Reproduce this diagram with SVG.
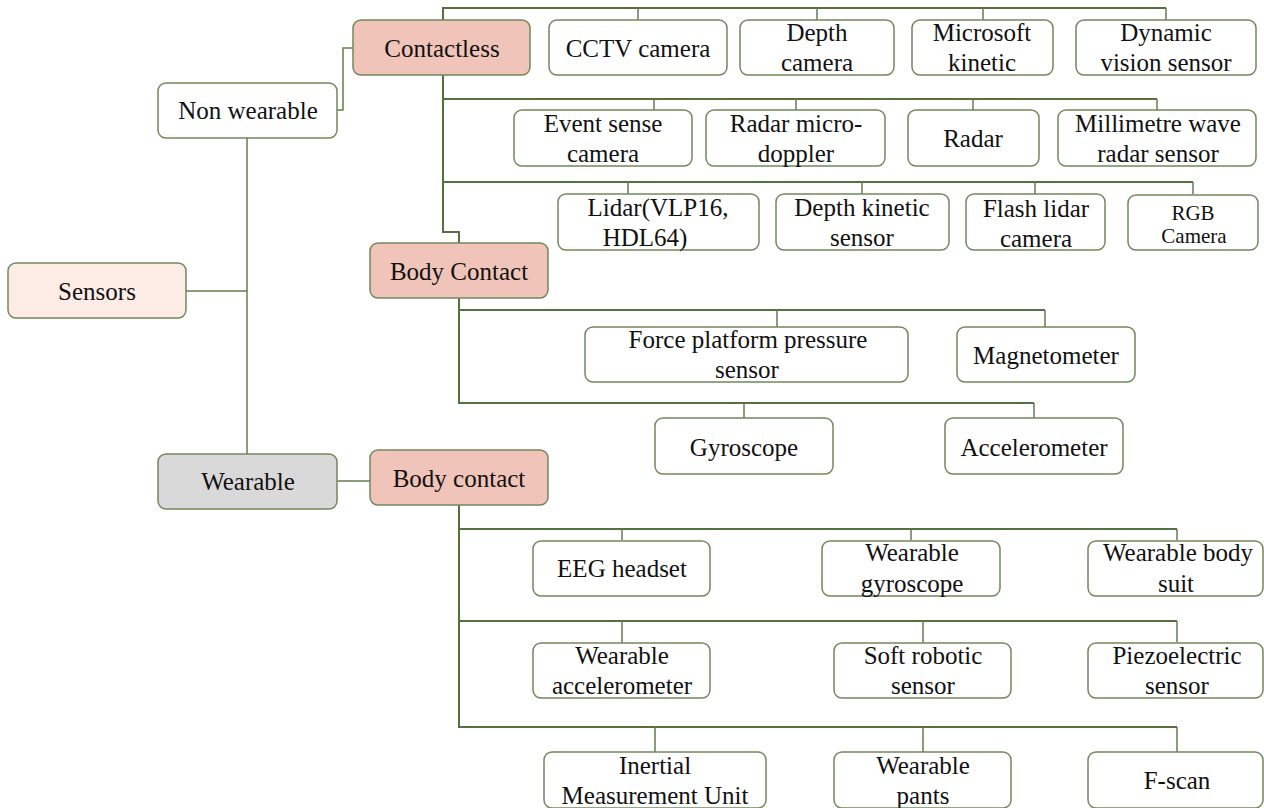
<svg xmlns="http://www.w3.org/2000/svg" width="1264" height="808" viewBox="0 0 1264 808">
<style>
.n{fill:#ffffff;stroke:#70885a;stroke-width:1.5}
.p{fill:#f0c4b8}
.s{fill:#fdece6}
.g{fill:#d9d9d9}
text{font-family:"Liberation Serif","Times New Roman",serif;font-size:25px;fill:#111;text-anchor:middle}
.sm{font-size:21px}
.bus{fill:none;stroke:#56703f;stroke-width:2}
.drop{fill:none;stroke:#647d50;stroke-width:1.5}
</style>
<rect width="1264" height="808" fill="#ffffff"/>
<g id="connectors">
<path class="drop" d="M186 291H247M247 138V454M337 481H370M337 110H343V48H353"/>
<path class="bus" d="M443 20V8H1166M443 75V232H459V243M443 99H1157M443 182H1193"/>
<path class="drop" d="M638 8V20M817 8V20M983 8V20M1166 8V20M654 99V110M796 99V110M973 99V110M1157 99V110M628 182V194M862 182V194M1035 182V194M1193 182V194"/>
<path class="bus" d="M459 298V403H1034M459 310H1045"/>
<path class="drop" d="M777 310V327M1045 310V327M744 403V418M1034 403V418"/>
<path class="bus" d="M459 505V727H1177M459 529H1177M459 621H1177"/>
<path class="drop" d="M622 529V540M911 529V540M1177 529V540M622 621V646M923 621V646M1177 621V642M655 727V752M923 727V752M1177 727V752"/>
</g>
<g id="sensors"><rect class="n s" x="8" y="263" width="178" height="55" rx="8"/><text x="97" y="300">Sensors</text></g>
<g id="non-wearable"><rect class="n" x="158" y="83" width="179" height="55" rx="8"/><text x="248" y="119">Non wearable</text></g>
<g id="wearable"><rect class="n g" x="158" y="454" width="179" height="55" rx="8"/><text x="248" y="490">Wearable</text></g>
<g id="contactless"><rect class="n p" x="353" y="20" width="177" height="55" rx="8"/><text x="442" y="57">Contactless</text></g>
<g id="body-contact-1"><rect class="n p" x="370" y="243" width="178" height="55" rx="8"/><text x="459" y="280">Body Contact</text></g>
<g id="body-contact-2"><rect class="n p" x="370" y="450" width="178" height="55" rx="8"/><text x="459" y="487">Body contact</text></g>

<g id="cctv"><rect class="n" x="549" y="20" width="178" height="55" rx="8"/><text x="638" y="57">CCTV camera</text></g>
<g id="depth-camera"><rect class="n" x="740" y="20" width="154" height="55" rx="8"/><text x="817" y="41">Depth</text><text x="817" y="71">camera</text></g>
<g id="microsoft-kinetic"><rect class="n" x="912" y="20" width="141" height="55" rx="8"/><text x="982" y="41">Microsoft</text><text x="982" y="71">kinetic</text></g>
<g id="dvs"><rect class="n" x="1076" y="20" width="180" height="55" rx="8"/><text x="1166" y="41">Dynamic</text><text x="1166" y="71">vision sensor</text></g>

<g id="event-camera"><rect class="n" x="514" y="110" width="178" height="56" rx="8"/><text x="603" y="132">Event sense</text><text x="603" y="162">camera</text></g>
<g id="radar-micro"><rect class="n" x="706" y="110" width="179" height="56" rx="8"/><text x="796" y="132">Radar micro-</text><text x="796" y="162">doppler</text></g>
<g id="radar"><rect class="n" x="908" y="110" width="131" height="56" rx="8"/><text x="973" y="147">Radar</text></g>
<g id="mmwave"><rect class="n" x="1058" y="110" width="198" height="56" rx="8"/><text x="1158" y="132">Millimetre wave</text><text x="1158" y="162">radar sensor</text></g>

<g id="lidar"><rect class="n" x="558" y="194" width="201" height="56" rx="8"/><text x="658" y="216">Lidar(VLP16,</text><text x="645" y="246">HDL64)</text></g>
<g id="depth-kinetic"><rect class="n" x="776" y="194" width="173" height="56" rx="8"/><text x="862" y="216">Depth kinetic</text><text x="862" y="246">sensor</text></g>
<g id="flash-lidar"><rect class="n" x="966" y="194" width="139" height="56" rx="8"/><text x="1036" y="217">Flash lidar</text><text x="1036" y="247">camera</text></g>
<g id="rgb"><rect class="n" x="1128" y="195" width="130" height="55" rx="8"/><text class="sm" x="1193" y="220">RGB</text><text class="sm" x="1194" y="243">Camera</text></g>

<g id="force"><rect class="n" x="585" y="327" width="323" height="55" rx="8"/><text x="748" y="348">Force platform pressure</text><text x="747" y="378">sensor</text></g>
<g id="magnetometer"><rect class="n" x="957" y="327" width="178" height="55" rx="8"/><text x="1046" y="364">Magnetometer</text></g>
<g id="gyroscope"><rect class="n" x="655" y="418" width="178" height="56" rx="8"/><text x="744" y="456">Gyroscope</text></g>
<g id="accelerometer"><rect class="n" x="945" y="418" width="178" height="56" rx="8"/><text x="1034" y="456">Accelerometer</text></g>

<g id="eeg"><rect class="n" x="533" y="541" width="177" height="55" rx="8"/><text x="622" y="577">EEG headset</text></g>
<g id="wearable-gyroscope"><rect class="n" x="822" y="541" width="178" height="55" rx="8"/><text x="912" y="561">Wearable</text><text x="912" y="592">gyroscope</text></g>
<g id="body-suit"><rect class="n" x="1088" y="541" width="175" height="55" rx="8"/><text x="1178" y="561">Wearable body</text><text x="1176" y="592">suit</text></g>

<g id="wearable-accelerometer"><rect class="n" x="533" y="643" width="177" height="55" rx="8"/><text x="622" y="664">Wearable</text><text x="622" y="694">accelerometer</text></g>
<g id="soft-robotic"><rect class="n" x="834" y="643" width="177" height="55" rx="8"/><text x="923" y="664">Soft robotic</text><text x="923" y="694">sensor</text></g>
<g id="piezo"><rect class="n" x="1088" y="643" width="175" height="55" rx="8"/><text x="1177" y="664">Piezoelectric</text><text x="1177" y="694">sensor</text></g>

<g id="imu"><rect class="n" x="544" y="752" width="222" height="56" rx="8"/><text x="655" y="774">Inertial</text><text x="655" y="804">Measurement Unit</text></g>
<g id="wearable-pants"><rect class="n" x="834" y="752" width="177" height="56" rx="8"/><text x="923" y="774">Wearable</text><text x="923" y="804">pants</text></g>
<g id="fscan"><rect class="n" x="1088" y="752" width="175" height="56" rx="8"/><text x="1177" y="789">F-scan</text></g>
</svg>
